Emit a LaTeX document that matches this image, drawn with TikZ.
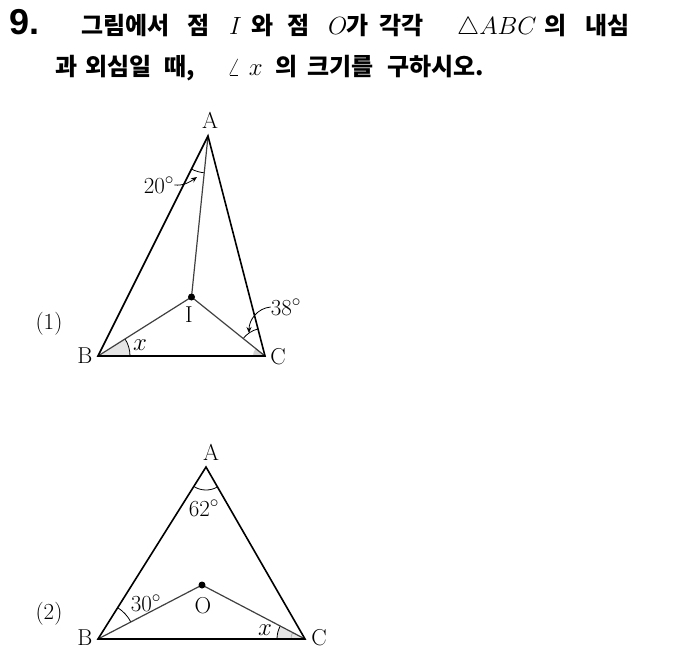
\documentclass[tikz,border=0pt]{standalone}
\usepackage{fontspec}
\newfontfamily\kr{Noto Sans CJK KR}
\newfontfamily\numf{Liberation Sans}
\usetikzlibrary{angles,arrows.meta}
\tikzset{
  kt/.style={anchor=base west, inner sep=0, font=\kr\bfseries\fontsize{24}{28}\selectfont},
  outer/.style={line width=1.6pt, black},
  inner/.style={line width=1.2pt, black!75},
  lbl/.style={inner sep=0, font=\fontsize{23}{25}\selectfont},
  arcm/.style={draw, line width=0.8pt},
  ptr/.style={line width=0.8pt, -{Stealth[length=6pt,width=5pt]}}
}
\begin{document}
\begin{tikzpicture}[x=1pt,y=-1pt]
\useasboundingbox (0,0) rectangle (676,662);
% title
\node[anchor=base west, inner sep=0, font=\numf\bfseries\fontsize{36}{40}\selectfont] (num) at (9,34) {9.};
\node[kt] (t1) at (81,34) {그림에서};
\node[kt] (t2) at (187,34) {점};
\node[kt] (t3) at (229,34) {$I$};
\node[kt] (t4) at (251,34) {와};
\node[kt] (t5) at (287,34) {점};
\node[kt] (t6) at (328,34) {$O$};
\node[kt] (t7) at (346,34) {가};
\node[kt] (t8) at (379,34) {각각};
\node[kt] (t9) at (457,34) {$\triangle ABC$};
\node[kt] (t10) at (544,34) {의};
\node[kt] (t11) at (585,34) {내심};
\node[kt] (u1) at (55,75) {과};
\node[kt] (u2) at (85,75) {외심일};
\node[kt] (u3) at (164,75) {때,};
\node[kt] (u4) at (227,75) {$\angle\,\,x$};
\node[kt] (u5) at (275,75) {의};
\node[kt] (u6) at (307,75) {크기를};
\node[kt] (u7) at (387,75) {구하시오.};
% figure 1
\coordinate (A1) at (208,136);
\coordinate (B1) at (98,356);
\coordinate (C1) at (265,356);
\coordinate (I1) at (191.5,297);
\pic[arcm, fill=gray!20, angle radius=32] {angle=C1--B1--I1};
\pic[fill=gray!35, angle radius=12] {angle=I1--C1--B1};
\pic[arcm, angle radius=37] {angle=B1--A1--I1};
\pic[arcm, angle radius=28] {angle=A1--C1--I1};
\draw[inner] (A1) -- (I1) (B1) -- (I1) -- (C1);
\draw[outer] (A1) -- (B1) -- (C1) -- cycle;
\fill (I1) circle (3.5);
\node[lbl] (la1) at (210,120) {A};
\node[lbl] (lb1) at (85,356) {B};
\node[lbl] (lc1) at (278,357) {C};
\node[lbl] (li1) at (189,315) {I};
\node[lbl] (n1) at (49,324) {(1)};
\node[lbl] (lx1) at (140,345) {$x$};
\node[lbl] (l20) at (159,185) {20$^\circ$};
\node[lbl] (l38) at (286,307) {38$^\circ$};
\coordinate (tip20) at (197,177);
\coordinate (tip38) at (249,333);
\draw[ptr] (l20.east) to[out=-5, in=215] (tip20);
\draw[ptr] (l38.west) to[out=185, in=90] (tip38);
% figure 2
\coordinate (A2) at (206,467);
\coordinate (B2) at (98,639);
\coordinate (C2) at (305,639);
\coordinate (O2) at (202,585);
\pic[arcm, fill=gray!20, angle radius=28] {angle=O2--C2--B2};
\pic[draw=gray!60, line width=0.8pt, angle radius=14] {angle=O2--C2--B2};
\pic[arcm, angle radius=23] {angle=B2--A2--C2};
\pic[arcm, angle radius=37] {angle=O2--B2--A2};
\draw[inner] (B2) -- (O2) -- (C2);
\draw[outer] (A2) -- (B2) -- (C2) -- cycle;
\fill (O2) circle (3.5);
\node[lbl] (la2) at (211,452) {A};
\node[lbl] (lb2) at (85,638) {B};
\node[lbl] (lc2) at (319,638) {C};
\node[lbl] (lo2) at (203,606) {O};
\node[lbl] (n2) at (49,614) {(2)};
\node[lbl] (lx2) at (265,630) {$x$};
\node[lbl] (l62) at (204,508) {62$^\circ$};
\node[lbl] (l30) at (146,603) {30$^\circ$};
\end{tikzpicture}
\end{document}
